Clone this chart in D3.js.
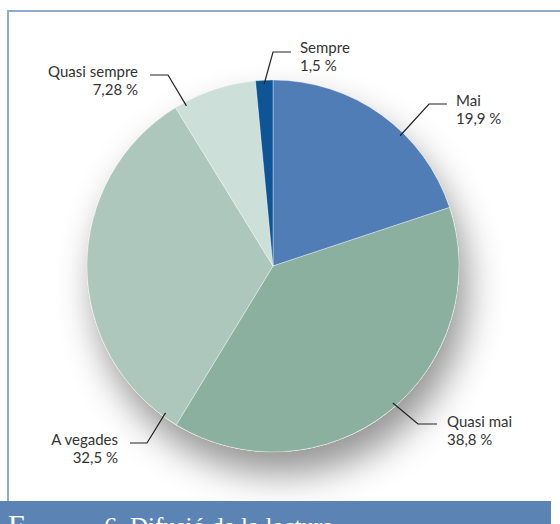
<!DOCTYPE html>
<html><head><meta charset="utf-8">
<script src="https://cdn.jsdelivr.net/npm/d3@7"></script>
<style>html,body{margin:0;padding:0;background:#fff;}svg{display:block;}</style>
</head><body>
<script>
const categories = ["Mai", "Quasi mai", "A vegades", "Quasi sempre", "Sempre"];
const values = [19.9, 38.8, 32.5, 7.28, 1.5];
const valueLabels = ["19,9 %", "38,8 %", "32,5 %", "7,28 %", "1,5 %"];
const colors = ["#507db6", "#8bb0a0", "#adc7bc", "#cddfd9", "#0e5597"];
// label layout: anchor angle on the pie edge (deg), elbow, line end, text anchor
const labelAngle = [44.3, 138.8, 216.2, 331.6, 357.2];
const labelElbow = [[429,104],[418,424],[147,443],[168,75],[273,52]];
const labelEnd = [[447,104],[437,424],[130,443],[150,75],[291,52]];
const labelText = [[456,106,"start"],[447,427,"start"],[118,445,"end"],[138,77,"end"],[300,53,"start"]];

const W = 560, H = 524, cx = 273, cy = 266, R = 186;
const svg = d3.select("body").append("svg").attr("width", W).attr("height", H);

const defs = svg.append("defs");
const f = defs.append("filter").attr("id","sh").attr("x","-50%").attr("y","-50%").attr("width","200%").attr("height","200%");
f.append("feDropShadow").attr("dx",8).attr("dy",22).attr("stdDeviation",18)
  .attr("flood-color","#000").attr("flood-opacity",0.42);

// frame
svg.append("line").attr("x1",7).attr("x2",W).attr("y1",11).attr("y2",11).attr("stroke","#8eabcb").attr("stroke-width",2);
svg.append("line").attr("x1",8).attr("x2",8).attr("y1",10).attr("y2",501).attr("stroke","#8eabcb").attr("stroke-width",2);

const data = categories.map((c,i)=>({cat:c, value:values[i], color:colors[i], label:valueLabels[i]}));
const pie = d3.pie().value(d=>d.value).sort(null);
const arcs = pie(data);
const arc = d3.arc().innerRadius(0).outerRadius(R);

const g = svg.append("g").attr("transform",`translate(${cx},${cy})`);
g.append("circle").attr("r",R).attr("fill","#fff").attr("filter","url(#sh)");
g.selectAll("path.slice").data(arcs).join("path").attr("class","slice")
  .attr("d",arc).attr("fill",d=>d.data.color).attr("stroke","#fff").attr("stroke-width",0.6).attr("stroke-opacity",0.6);

// labels
const lbl = svg.append("g").attr("font-family","Lato, 'Open Sans', sans-serif").attr("font-size",15).attr("fill","#333");
data.forEach((d,i)=>{
  const a = labelAngle[i]*Math.PI/180, rr = R-4;
  const p0 = [cx + rr*Math.sin(a), cy - rr*Math.cos(a)];
  svg.append("polyline").attr("points",[p0,labelElbow[i],labelEnd[i]].map(p=>p.join(",")).join(" "))
    .attr("fill","none").attr("stroke","#222").attr("stroke-width",1.2);
  const [tx,ty,anc] = labelText[i];
  const t = lbl.append("text").attr("x",tx).attr("y",ty).attr("text-anchor",anc);
  t.append("tspan").attr("x",tx).text(d.cat);
  t.append("tspan").attr("x",tx).attr("dy",18).text(d.label);
});

// caption band
svg.append("rect").attr("x",0).attr("y",501).attr("width",551).attr("height",H-501).attr("fill","#5b84b5");
const cap = svg.append("text").attr("x",8).attr("y",535).attr("fill","#fff").attr("font-family","'Liberation Serif', serif");
cap.append("tspan").attr("font-size",30).text("F");
cap.append("tspan").attr("font-size",17).text("IGURA ");
cap.append("tspan").attr("font-size",26).attr("x",104).text("6. ");
cap.append("tspan").attr("font-size",25).text("Difusió de la lectura");
</script>
</body></html>
